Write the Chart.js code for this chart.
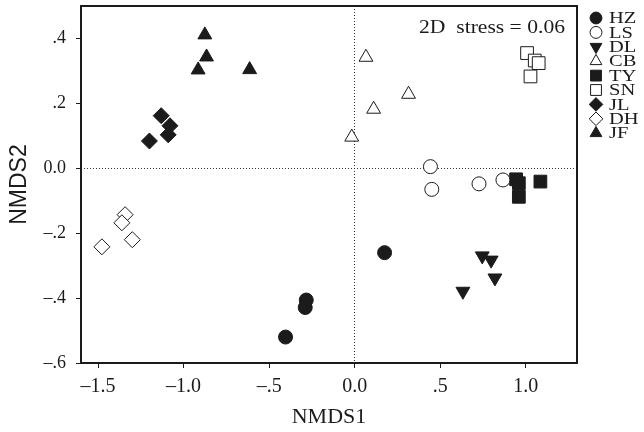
<!DOCTYPE html>
<html lang="en">
<head>
<meta charset="UTF-8">
<title>NMDS ordination</title>
<script src="https://cdn.jsdelivr.net/npm/chart.js"></script>
<style>
    html, body { margin: 0; padding: 0; background: #fff; }
    #wrap { width: 644px; height: 432px; position: relative; }
</style>
</head>
<body>
<div id="wrap"><canvas id="nmds"></canvas></div>
<script>
    // site groups, each point is [NMDS1, NMDS2]
    const groups = ['HZ', 'LS', 'DL', 'CB', 'TY', 'SN', 'JL', 'DH', 'JF'];
    const HZ = [[-0.404, -0.520], [-0.283, -0.406], [-0.289, -0.429], [0.175, -0.260]];
    const LS = [[0.443, 0.005], [0.451, -0.065], [0.727, -0.048], [0.867, -0.036]];
    const DL = [[0.746, -0.270], [0.798, -0.283], [0.820, -0.338], [0.633, -0.379]];
    const CB = [[0.066, 0.342], [0.315, 0.228], [0.111, 0.182], [-0.017, 0.096]];
    const TY = [[0.944, -0.034], [0.960, -0.046], [0.960, -0.088], [1.086, -0.041]];
    const SN = [[1.008, 0.355], [1.053, 0.332], [1.076, 0.324], [1.028, 0.283]];
    const JL = [[-1.131, 0.162], [-1.080, 0.131], [-1.090, 0.103], [-1.200, 0.084]];
    const DH = [[-1.342, -0.143], [-1.361, -0.168], [-1.300, -0.220], [-1.478, -0.242]];
    const JF = [[-0.876, 0.411], [-0.866, 0.343], [-0.915, 0.303], [-0.614, 0.304]];
    const series = [HZ, LS, DL, CB, TY, SN, JL, DH, JF];

    const xTicks = [-1.5, -1, -0.5, 0, 0.5, 1];
    const xTickLabels = ['\u20131.5', '\u20131.0', '\u2013.5', '0.0', '.5', '1.0'];
    const yTicks = [-0.6, -0.4, -0.2, 0, 0.2, 0.4];
    const yTickLabels = ['\u2013.6', '\u2013.4', '\u2013.2', '0.0', '.2', '.4'];

    const ink = '#1b1b1b';
    const serif = '"Liberation Serif", "Times New Roman", serif';

    // marker look per group (same order as groups)
    const markers = [
        { style: 'circle', fill: true, r: 7, rot: 0 },
        { style: 'circle', fill: false, r: 7, rot: 0 },
        { style: 'triangle', fill: true, r: 8, rot: 180 },
        { style: 'triangle', fill: false, r: 8, rot: 0 },
        { style: 'rect', fill: true, r: 9, rot: 0 },
        { style: 'rect', fill: false, r: 9, rot: 0 },
        { style: 'rectRot', fill: true, r: 8, rot: 0 },
        { style: 'rectRot', fill: false, r: 8, rot: 0 },
        { style: 'triangle', fill: true, r: 8, rot: 0 }
    ];

    const datasets = groups.map((name, i) => ({
        label: name,
        data: series[i].map(p => ({ x: p[0], y: p[1] })),
        pointStyle: markers[i].style,
        pointRadius: markers[i].r,
        pointHoverRadius: markers[i].r,
        pointRotation: markers[i].rot,
        backgroundColor: markers[i].fill ? ink : '#fff',
        borderColor: ink,
        borderWidth: 1
    }));

    const frame = {
        id: 'frame',
        afterDraw(chart) {
            const { ctx, chartArea: a } = chart;
            ctx.save();
            ctx.strokeStyle = ink;
            ctx.lineWidth = 2;
            ctx.strokeRect(a.left, a.top, a.right - a.left, a.bottom - a.top);
            ctx.restore();
        }
    };

    const stressNote = {
        id: 'stressNote',
        afterDatasetsDraw(chart) {
            const { ctx, chartArea: a } = chart;
            ctx.save();
            ctx.font = '18px ' + serif;
            ctx.fillStyle = ink;
            ctx.textAlign = 'right';
            ctx.textBaseline = 'middle';
            ctx.translate(a.right - 12, a.top + 22);
            ctx.scale(1.2, 1);
            ctx.fillText('2D  stress = 0.06', 0, 0);
            ctx.restore();
        }
    };

    // legend down the right side, outside the frame
    const sideLegend = {
        id: 'sideLegend',
        afterDraw(chart) {
            const ctx = chart.ctx;
            chart.data.datasets.forEach((ds, i) => {
                const y = 18 + i * 14.4;
                ctx.save();
                ctx.fillStyle = ds.backgroundColor;
                ctx.strokeStyle = ds.borderColor;
                ctx.lineWidth = ds.borderWidth;
                Chart.helpers.drawPoint(ctx, {
                    pointStyle: ds.pointStyle,
                    rotation: ds.pointRotation,
                    radius: ds.pointRadius * 0.85,
                    borderWidth: ds.borderWidth
                }, 596, y);
                ctx.font = '16px ' + serif;
                ctx.fillStyle = ink;
                ctx.textAlign = 'left';
                ctx.textBaseline = 'middle';
                ctx.translate(609, y + 1);
                ctx.scale(1.28, 1);
                ctx.fillText(ds.label, 0, 0);
                ctx.restore();
            });
        }
    };

    const zeroGrid = c => (c.tick && c.tick.value === 0) ? '#333' : 'transparent';

    new Chart(document.getElementById('nmds'), {
        type: 'scatter',
        data: { datasets: datasets },
        plugins: [stressNote, frame, sideLegend],
        options: {
            responsive: true,
            maintainAspectRatio: false,
            animation: false,
            events: [],
            layout: { autoPadding: false, padding: { left: 0, top: 6, right: 67, bottom: 0 } },
            plugins: { legend: { display: false }, tooltip: { enabled: false } },
            scales: {
                x: {
                    type: 'linear',
                    min: -1.6,
                    max: 1.3,
                    afterBuildTicks: s => { s.ticks = xTicks.map(v => ({ value: v })); },
                    afterFit: s => { s.height = 69; s.paddingLeft = 0; s.paddingRight = 0; },
                    ticks: {
                        callback: (v, i) => xTickLabels[i],
                        font: { family: serif, size: 20 },
                        color: ink,
                        padding: 7,
                        maxRotation: 0,
                        autoSkip: false
                    },
                    grid: { color: zeroGrid, lineWidth: 1, tickWidth: 1, tickColor: ink, tickLength: 5 },
                    border: { display: false, dash: [1, 2] },
                    title: {
                        display: true, text: 'NMDS1', color: ink,
                        font: { family: serif, size: 22 },
                        padding: { top: 0, bottom: 2 }
                    }
                },
                y: {
                    type: 'linear',
                    min: -0.6,
                    max: 0.5,
                    afterBuildTicks: s => { s.ticks = yTicks.map(v => ({ value: v })); },
                    afterFit: s => { s.width = 81; s.paddingTop = 0; s.paddingBottom = 0; },
                    ticks: {
                        callback: (v, i) => yTickLabels[i],
                        font: { family: serif, size: 18 },
                        color: ink,
                        padding: 10
                    },
                    grid: { color: zeroGrid, lineWidth: 1, tickWidth: 1, tickColor: ink, tickLength: 5 },
                    border: { display: false, dash: [1, 2] },
                    title: {
                        display: true, text: 'NMDS2', color: ink,
                        font: { family: '"Liberation Sans", Arial, sans-serif', size: 23 },
                        padding: { top: 6, bottom: 0 }
                    }
                }
            }
        }
    });
</script>
</body>
</html>
